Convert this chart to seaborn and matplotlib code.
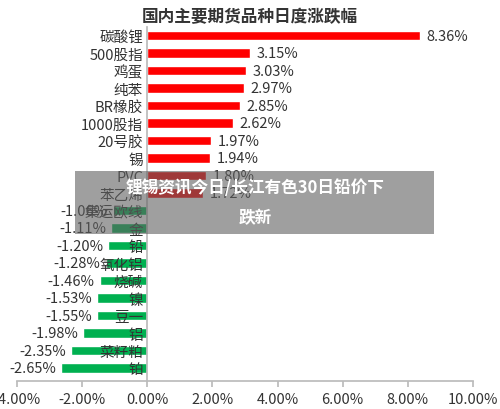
import matplotlib
matplotlib.use("Agg")
import matplotlib.pyplot as plt
import seaborn as sns
import pandas as pd
from matplotlib.patches import Rectangle

categories = ["碳酸锂", "500股指", "鸡蛋", "纯苯", "BR橡胶", "1000股指", "20号胶", "锡", "PVC", "苯乙烯",
              "集运欧线", "金", "铅", "氧化铝", "烧碱", "镍", "豆一", "铝", "菜籽粕", "铂"]
values = [8.36, 3.15, 3.03, 2.97, 2.85, 2.62, 1.97, 1.94, 1.80, 1.72,
          -1.06, -1.11, -1.20, -1.28, -1.46, -1.53, -1.55, -1.98, -2.35, -2.65]
x_ticks = [-4, -2, 0, 2, 4, 6, 8, 10]

sns.set_theme(style="white")
plt.rcParams['font.family'] = ['Noto Sans CJK SC', 'DejaVu Sans']

df = pd.DataFrame({"cat": categories, "val": values})
colors = ["#FF0000" if v > 0 else "#00B050" for v in values]

fig = plt.figure(figsize=(5, 4.1), dpi=100)
ax = fig.add_axes([0.034, 0.068, 0.912, 0.864])
sns.barplot(data=df, x="val", y="cat", hue="cat", palette=colors, legend=False,
            orient="h", width=0.55, saturation=1, ax=ax)
ax.set_axisbelow(False)
ax.set_xlim(-4, 10)
ax.set_ylim(19.75, -0.5)
ax.set_xticks(x_ticks)
ax.set_xticklabels([f"{t:.2f}%" for t in x_ticks], fontsize=10.5, color="#333333")
ax.set_xlabel("")
ax.set_ylabel("")
ax.spines['left'].set_position(('data', 0))
for s in ['top', 'right']:
    ax.spines[s].set_visible(False)
for s in ['left', 'bottom']:
    ax.spines[s].set_color("#bbbbbb")
ax.tick_params(axis='y', labelsize=10.5, colors="#333333", length=0, pad=3)
ax.tick_params(axis='x', length=4, color="#bbbbbb", bottom=True)
for lab in ax.get_yticklabels():
    lab.set_color("#333333")
for i, v in enumerate(values):
    if v > 0:
        ax.text(v + 0.2, i, f"{v:.2f}%", va="center", ha="left", fontsize=10.5, color="#333333")
    else:
        ax.text(v - 0.15, i, f"{v:.2f}%", va="center", ha="right", fontsize=10.5, color="#333333")

fig.text(0.5, 0.958, "国内主要期货品种日度涨跌幅", ha="center", va="center",
         fontsize=12, fontweight="bold", color="#333333")

fig.add_artist(Rectangle((0.15, 0.427), 0.718, 0.153, transform=fig.transFigure,
                         facecolor="#606060", alpha=0.6, edgecolor="none", zorder=5))
fig.text(0.51, 0.541, "锂锡资讯今日/长江有色30日铅价下", ha="center", va="center",
         fontsize=12, fontweight="bold", color="white", zorder=6)
fig.text(0.51, 0.467, "跌新", ha="center", va="center",
         fontsize=12, fontweight="bold", color="white", zorder=6)

fig.savefig("out.png", dpi=100)
